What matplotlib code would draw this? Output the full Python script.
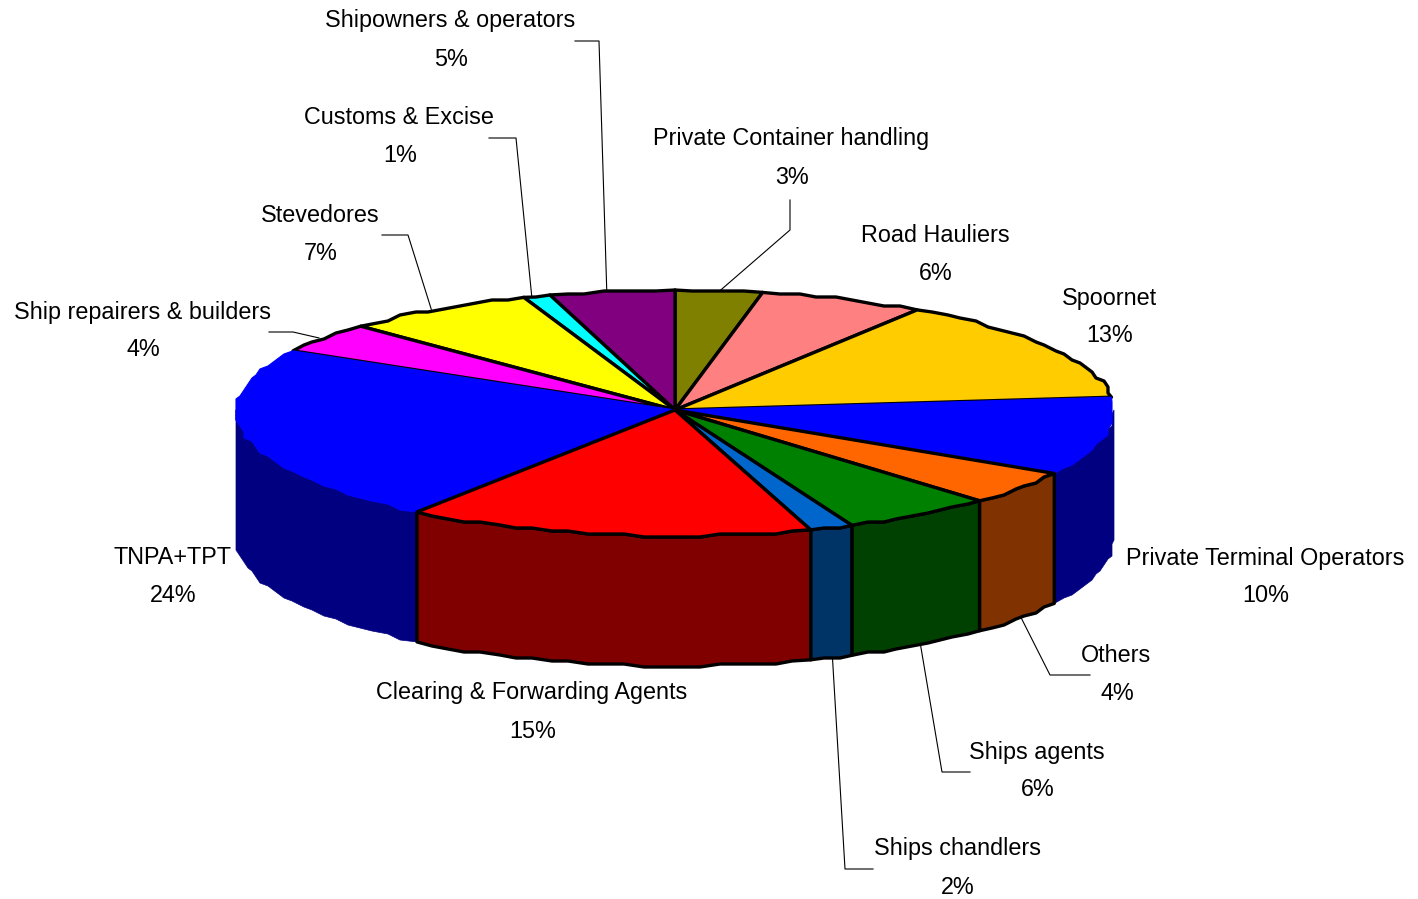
import numpy as np
import matplotlib
matplotlib.use('Agg')
import matplotlib.pyplot as plt

# clockwise from 12 o'clock
names = ['Private Container handling', 'Road Hauliers', 'Spoornet', 'Private Terminal Operators',
         'Others', 'Ships agents', 'Ships chandlers', 'Clearing & Forwarding Agents', 'TNPA+TPT',
         'Ship repairers & builders', 'Stevedores', 'Customs & Excise', 'Shipowners & operators']
# slice sizes
values = [3.2, 6.1, 14.0, 10.1, 4.4, 5.6, 1.6, 15.0, 23.2, 4.1, 7.1, 1.0, 4.6]
# percentages as printed on the labels
pct_labels = ['3%', '6%', '13%', '10%', '4%', '6%', '2%', '15%', '24%', '4%', '7%', '1%', '5%']
top_colors = ['#808000', '#FF8080', '#FFCC00', '#0000FF', '#FF6600', '#008000', '#0066CC',
              '#FF0000', '#0000FF', '#FF00FF', '#FFFF00', '#00FFFF', '#800080']
side_colors = ['#404000', '#804040', '#806600', '#000080', '#803300', '#004000', '#003366',
               '#800000', '#000080', '#800080', '#808000', '#008080', '#400040']

# layout, in pixels of the reference
cx, cy = 675, 410
rx, ry_back, ry_front = 439, 120, 126
depth = 130
label_xy = [(791, 139), (935, 236), (1109, 298), (1265, 558), (1116, 655), (1037, 752), (957, 849),
            (532, 693), (172, 558), (142, 312), (320, 215), (399, 118), (450, 21)]
# leader line: where it leaves the text, then the elbow
leaders = {0: [(790, 200), (790, 230)], 4: [(1090, 675), (1050, 675)], 5: [(970, 772), (942, 772)],
           6: [(873, 869), (845, 869)], 9: [(269, 332), (293, 332)], 10: [(382, 235), (408, 235)],
           11: [(489, 138), (516, 138)], 12: [(575, 41), (599, 41)]}


def rim(theta):
    # point on the top ellipse, theta in degrees
    t = np.radians(theta)
    ry = np.where(np.sin(t) > 0, ry_back, ry_front)
    return cx + rx * np.cos(t), cy - ry * np.sin(t)


def rough_arc(t1, t2):
    # the source chart has a stepped, low resolution outline
    ts = np.linspace(t1, t2, max(int(abs(t2 - t1) / 2.5) + 2, 2))
    x, y = rim(ts)
    x[1:-1] = np.round(x[1:-1] / 4) * 4
    y[1:-1] = np.round(y[1:-1] / 3) * 3
    return x, y


fig = plt.figure(figsize=(14.18, 8.99), dpi=100)
ax = fig.add_axes([0, 0, 1, 1])
ax.set_xlim(0, 1418)
ax.set_ylim(899, 0)
ax.axis('off')

cum = np.concatenate([[0], np.cumsum(values)]) / sum(values)
angles = 90 - 360 * cum
lw = 2.4

# draw walls and tops back to front
mids = (angles[:-1] + angles[1:]) / 2
order = np.argsort(-np.sin(np.radians(mids)))
z = 2
for i in order:
    # wall is only seen on the front half of the ellipse
    t1, t2 = min(angles[i], 0), max(angles[i + 1], -180)
    if t1 > t2:
        x, y = rough_arc(t1, t2)
        xs = np.concatenate([x, x[::-1]])
        ys = np.concatenate([y, y[::-1] + depth])
        outlined = top_colors[i] != '#0000FF'
        ax.fill(xs, ys, facecolor=side_colors[i], edgecolor='black' if outlined else side_colors[i],
                lw=lw if outlined else 0.5, joinstyle='round', zorder=z)
        z += 1

for i in order:
    x, y = rough_arc(angles[i], angles[i + 1])
    xs = np.concatenate([[cx], x])
    ys = np.concatenate([[cy], y])
    if top_colors[i] == '#0000FF':
        ax.fill(xs, ys, facecolor=top_colors[i], edgecolor=top_colors[i], lw=0.8, zorder=z)
    else:
        ax.fill(xs, ys, facecolor=top_colors[i], edgecolor='black', lw=lw, joinstyle='round', zorder=z)
    z += 1

for i, pts in leaders.items():
    ax_, ay_ = rim(mids[i])
    if np.sin(np.radians(mids[i])) < 0:
        ay_ = ay_ + depth
    nudge = -5 if np.cos(np.radians(mids[i])) < 0 else 1
    ax.plot([pts[0][0], pts[1][0], float(ax_) + nudge], [pts[0][1], pts[1][1], float(ay_)],
            color='black', lw=0.8, zorder=1)

for i in range(len(names)):
    lx, ly = label_xy[i]
    ax.text(lx, ly, names[i], ha='center', va='center', fontsize=16.8, family='Liberation Sans')
    ax.text(lx + 1, ly + 38, pct_labels[i], ha='center', va='center', fontsize=16.8, family='Liberation Sans')

fig.savefig('out.png', dpi=100)
